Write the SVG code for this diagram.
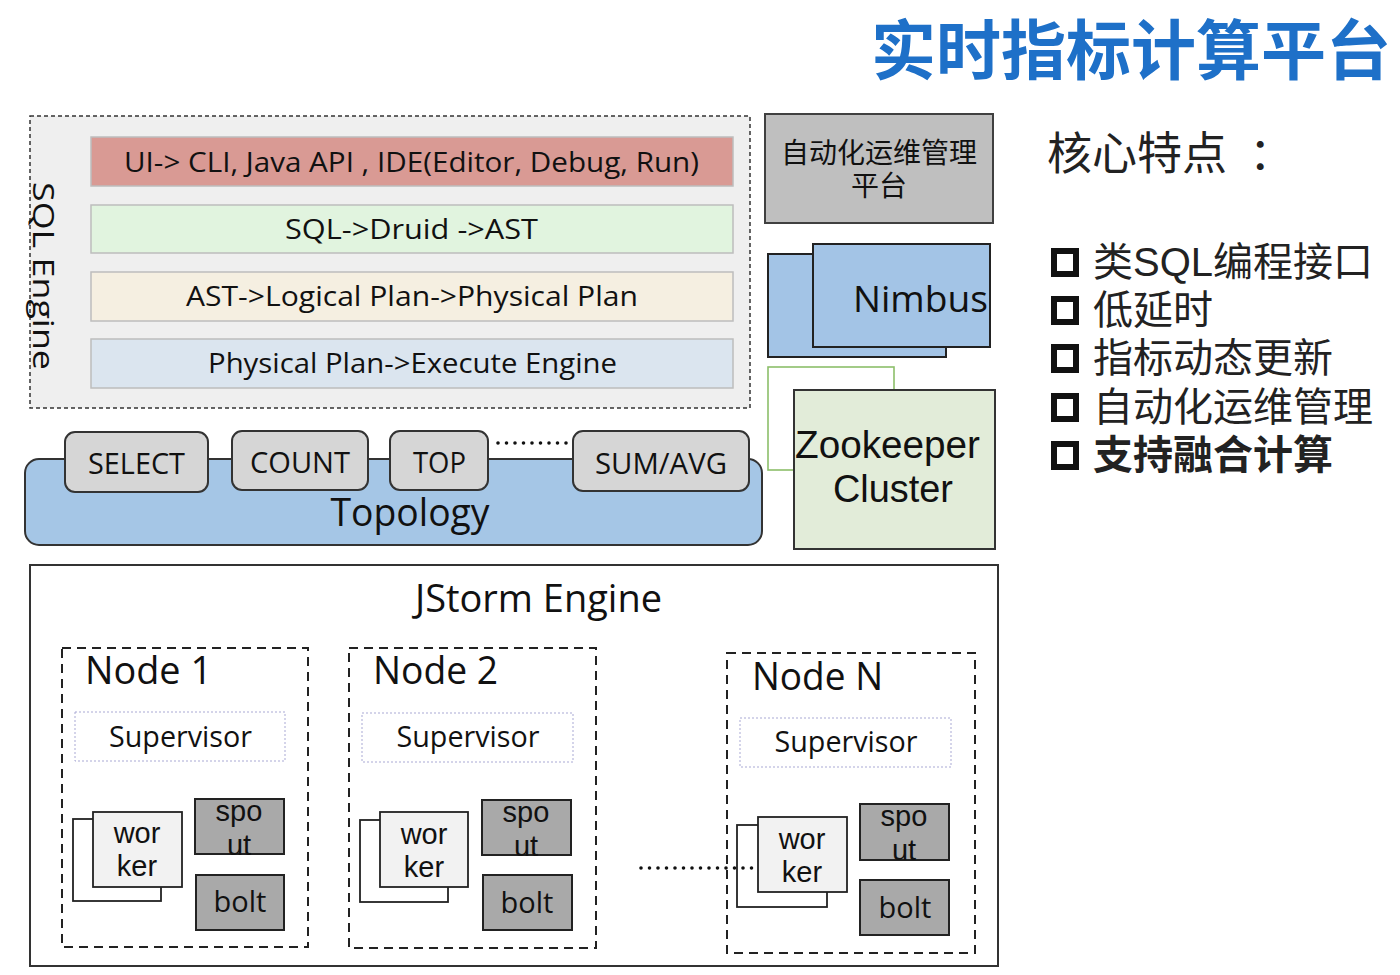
<svg xmlns="http://www.w3.org/2000/svg" width="1400" height="975" viewBox="0 0 1400 975">
<style>
.lat{font-family:"Open Sans","Noto Sans","Noto Sans CJK SC",sans-serif;fill:#111}
.tight{font-family:"Liberation Sans","Noto Sans CJK SC",sans-serif;fill:#111}
.cjk{font-family:"Noto Sans CJK SC","Noto Sans",sans-serif;fill:#111}
.bar{stroke:#bdbdbd;stroke-width:1.5}
.op{fill:#d6d6d6;stroke:#333;stroke-width:2}
.node{fill:none;stroke:#222;stroke-width:2;stroke-dasharray:9 6}
.sup{fill:#fff;stroke:#a9a9d4;stroke-width:1;stroke-dasharray:2 2}
.wback{fill:#fff;stroke:#222;stroke-width:1.8}
.wfront{fill:#f2f2f2;stroke:#222;stroke-width:1.8}
.task{fill:#a9a9a9;stroke:#222;stroke-width:2}
.dots{fill:none;stroke:#111;stroke-width:3.6;stroke-linecap:round;stroke-dasharray:0 8.5}
.bul{fill:none;stroke:#111;stroke-width:6}
</style>
<rect width="1400" height="975" fill="#fff"/>

<g id="title">
<text class="cjk" x="1131" y="74" font-size="65" font-weight="bold" text-anchor="middle" style="fill:#1e70c8">实时指标计算平台</text>
</g>

<g id="sql-engine">
<rect x="30" y="116" width="720" height="292" fill="#efefef" stroke="#333" stroke-width="1.5" stroke-dasharray="4 3"/>
<text class="lat" transform="translate(33,182) rotate(90)" font-size="30" textLength="188" lengthAdjust="spacingAndGlyphs">SQL Engine</text>
</g>
<g id="bar-ui">
<rect class="bar" x="91" y="137" width="642" height="49" fill="#d99a94"/>
<text class="lat" x="411.5" y="172" font-size="28" text-anchor="middle" textLength="575" lengthAdjust="spacingAndGlyphs">UI-&gt; CLI, Java API , IDE(Editor, Debug, Run)</text>
</g>
<g id="bar-sql">
<rect class="bar" x="91" y="205" width="642" height="48" fill="#e1f4df"/>
<text class="lat" x="411.5" y="239" font-size="28" text-anchor="middle" textLength="253" lengthAdjust="spacingAndGlyphs">SQL-&gt;Druid -&gt;AST</text>
</g>
<g id="bar-ast">
<rect class="bar" x="91" y="272" width="642" height="49" fill="#f5efe1"/>
<text class="lat" x="412" y="306" font-size="28" text-anchor="middle" textLength="452" lengthAdjust="spacingAndGlyphs">AST-&gt;Logical Plan-&gt;Physical Plan</text>
</g>
<g id="bar-physical">
<rect class="bar" x="91" y="339" width="642" height="49" fill="#dbe5ef"/>
<text class="lat" x="412.5" y="373" font-size="28" text-anchor="middle" textLength="409" lengthAdjust="spacingAndGlyphs">Physical Plan-&gt;Execute Engine</text>
</g>

<g id="ops-platform">
<rect x="765" y="114" width="228" height="109" fill="#bfbfbf" stroke="#404040" stroke-width="2"/>
<text class="tight" font-size="28" text-anchor="middle"><tspan x="879" y="163">自动化运维管理</tspan><tspan x="879" y="196">平台</tspan></text>
</g>

<g id="nimbus">
<rect x="768" y="254" width="178" height="103" fill="#a3c4e6" stroke="#222" stroke-width="2"/>
<rect x="813" y="244" width="177" height="103" fill="#a3c4e6" stroke="#222" stroke-width="2"/>
<text class="lat" x="853" y="312" font-size="37" textLength="135" lengthAdjust="spacingAndGlyphs">Nimbus</text>
</g>

<g id="zookeeper">
<rect x="768" y="367" width="126" height="103" fill="#fff" stroke="#8cbf6a" stroke-width="1.6"/>
<rect x="794" y="390" width="201" height="159" fill="#e2ecd9" stroke="#333" stroke-width="2"/>
<text class="tight" font-size="38" text-anchor="middle"><tspan x="887.5" y="458" textLength="185" lengthAdjust="spacingAndGlyphs">Zookeeper</tspan><tspan x="893" y="502" textLength="120" lengthAdjust="spacingAndGlyphs">Cluster</tspan></text>
</g>

<g id="topology">
<rect x="25" y="459" width="737" height="86" rx="14" fill="#a5c6e6" stroke="#333" stroke-width="2"/>
<text class="lat" x="410" y="526" font-size="38" text-anchor="middle" textLength="159" lengthAdjust="spacingAndGlyphs">Topology</text>
</g>
<g id="op-select">
<rect class="op" x="65" y="432" width="143" height="60" rx="10"/>
<text class="lat" x="136.5" y="474" font-size="30" text-anchor="middle" textLength="97" lengthAdjust="spacingAndGlyphs">SELECT</text>
</g>
<g id="op-count">
<rect class="op" x="232" y="431" width="136" height="59" rx="10"/>
<text class="lat" x="300" y="473" font-size="30" text-anchor="middle" textLength="100" lengthAdjust="spacingAndGlyphs">COUNT</text>
</g>
<g id="op-top">
<rect class="op" x="390" y="431" width="98" height="59" rx="10"/>
<text class="lat" x="439.5" y="473" font-size="30" text-anchor="middle" textLength="53" lengthAdjust="spacingAndGlyphs">TOP</text>
</g>
<g id="op-sumavg">
<rect class="op" x="573" y="431" width="176" height="60" rx="10"/>
<text class="lat" x="661" y="474" font-size="30" text-anchor="middle" textLength="132" lengthAdjust="spacingAndGlyphs">SUM/AVG</text>
</g>

<g id="jstorm">
<rect x="30" y="565" width="968" height="401" fill="#fff" stroke="#333" stroke-width="2"/>
<text class="lat" x="538.5" y="612" font-size="38" text-anchor="middle" textLength="247" lengthAdjust="spacingAndGlyphs">JStorm Engine</text>
</g>

<g id="node-1">
<rect class="node" x="62" y="648" width="246" height="299"/>
<text class="lat" x="85" y="684" font-size="38" textLength="127" lengthAdjust="spacingAndGlyphs">Node 1</text>
<rect class="sup" x="75" y="712" width="210" height="49"/>
<text class="lat" x="180.5" y="747" font-size="29" text-anchor="middle" textLength="143" lengthAdjust="spacingAndGlyphs">Supervisor</text>
<rect class="wback" x="73" y="819" width="88" height="82"/>
<rect class="wfront" x="93" y="812" width="89" height="75"/>
<text class="tight" font-size="29" text-anchor="middle"><tspan x="137" y="843">wor</tspan><tspan x="137" y="876">ker</tspan></text>
<rect class="task" x="195" y="799" width="89" height="55"/>
<text class="tight" font-size="29" text-anchor="middle"><tspan x="239" y="821">spo</tspan><tspan x="239" y="855">ut</tspan></text>
<rect class="task" x="196" y="875" width="88" height="55"/>
<text class="lat" x="240" y="912" font-size="29" text-anchor="middle">bolt</text>
</g>

<g id="node-2">
<rect class="node" x="349" y="648" width="247" height="300"/>
<text class="lat" x="373" y="684" font-size="38" textLength="125" lengthAdjust="spacingAndGlyphs">Node 2</text>
<rect class="sup" x="362" y="713" width="211" height="49"/>
<text class="lat" x="468" y="747" font-size="29" text-anchor="middle" textLength="143" lengthAdjust="spacingAndGlyphs">Supervisor</text>
<rect class="wback" x="360" y="820" width="88" height="82"/>
<rect class="wfront" x="380" y="812" width="88" height="75"/>
<text class="tight" font-size="29" text-anchor="middle"><tspan x="424" y="844">wor</tspan><tspan x="424" y="877">ker</tspan></text>
<rect class="task" x="482" y="800" width="89" height="55"/>
<text class="tight" font-size="29" text-anchor="middle"><tspan x="526" y="822">spo</tspan><tspan x="526" y="856">ut</tspan></text>
<rect class="task" x="483" y="875" width="89" height="55"/>
<text class="lat" x="527" y="913" font-size="29" text-anchor="middle">bolt</text>
</g>

<g id="node-n">
<rect class="node" x="727" y="653" width="248" height="300"/>
<text class="lat" x="752" y="690" font-size="38" textLength="131" lengthAdjust="spacingAndGlyphs">Node N</text>
<rect class="sup" x="740" y="718" width="211" height="49"/>
<text class="lat" x="846" y="752" font-size="29" text-anchor="middle" textLength="143" lengthAdjust="spacingAndGlyphs">Supervisor</text>
<rect class="wback" x="737" y="825" width="90" height="82"/>
<rect class="wfront" x="758" y="817" width="89" height="75"/>
<text class="tight" font-size="29" text-anchor="middle"><tspan x="802" y="849">wor</tspan><tspan x="802" y="882">ker</tspan></text>
<rect class="task" x="860" y="804" width="89" height="56"/>
<text class="tight" font-size="29" text-anchor="middle"><tspan x="904" y="826">spo</tspan><tspan x="904" y="860">ut</tspan></text>
<rect class="task" x="860" y="880" width="89" height="55"/>
<text class="lat" x="905" y="918" font-size="29" text-anchor="middle">bolt</text>
</g>

<g id="connectors">
<line class="dots" x1="498" y1="443" x2="570" y2="443"/>
<line class="dots" x1="641" y1="868" x2="752" y2="868"/>
</g>

<g id="features">
<text class="cjk" x="1047" y="170" font-size="45" style="fill:#222">核心特点<tspan dx="22">：</tspan></text>
<rect class="bul" x="1054" y="251" width="22" height="23"/>
<rect class="bul" x="1054" y="299" width="22" height="23"/>
<rect class="bul" x="1054" y="347" width="22" height="23"/>
<rect class="bul" x="1054" y="396" width="22" height="23"/>
<rect class="bul" x="1054" y="444" width="22" height="23"/>
<text class="tight" font-size="40" style="fill:#222"><tspan x="1093" y="276">类SQL编程接口</tspan><tspan x="1093" y="324">低延时</tspan><tspan x="1093" y="372">指标动态更新</tspan><tspan x="1093" y="421">自动化运维管理</tspan><tspan x="1093" y="469" font-weight="bold">支持融合计算</tspan></text>
</g>
</svg>
